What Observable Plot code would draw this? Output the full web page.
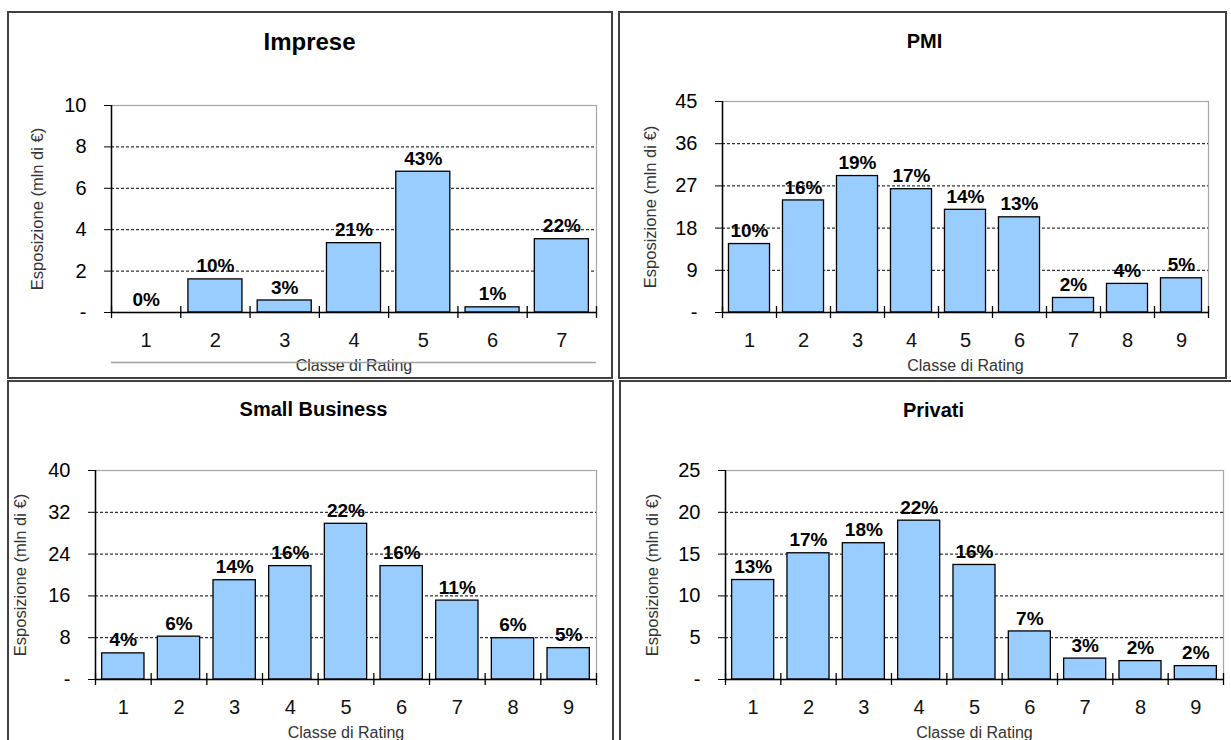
<!DOCTYPE html>
<html>
<head>
<meta charset="utf-8">
<script src="https://cdn.jsdelivr.net/npm/d3@7"></script>
<script src="https://cdn.jsdelivr.net/npm/@observablehq/plot@0.6"></script>
<style>
  html, body { margin: 0; padding: 0; background: #fff; }
  #root { position: relative; width: 1231px; height: 740px; overflow: hidden; background: #fff; }
  .box { position: absolute; border: 2px solid #404040; box-sizing: border-box; }
  .chart { position: absolute; }
  .chart svg { overflow: visible; }
</style>
</head>
<body>
<div id="root"></div>
<script>
// ---------- data ----------
const categories7 = [1, 2, 3, 4, 5, 6, 7];
const categories9 = [1, 2, 3, 4, 5, 6, 7, 8, 9];

const impreseTitle = "Imprese";
const impreseValues = [0, 1.6, 0.58, 3.35, 6.8, 0.25, 3.54];
const impreseLabels = ["0%", "10%", "3%", "21%", "43%", "1%", "22%"];
const impreseTicks = [0, 2, 4, 6, 8, 10];

const pmiTitle = "PMI";
const pmiValues = [14.6, 23.9, 29.1, 26.3, 21.9, 20.3, 3.1, 6.1, 7.3];
const pmiLabels = ["10%", "16%", "19%", "17%", "14%", "13%", "2%", "4%", "5%"];
const pmiTicks = [0, 9, 18, 27, 36, 45];

const smallTitle = "Small Business";
const smallValues = [5.0, 8.2, 19.0, 21.7, 29.8, 21.7, 15.1, 7.9, 6.0];
const smallLabels = ["4%", "6%", "14%", "16%", "22%", "16%", "11%", "6%", "5%"];
const smallTicks = [0, 8, 16, 24, 32, 40];

const privatiTitle = "Privati";
const privatiValues = [11.9, 15.1, 16.3, 19.0, 13.7, 5.75, 2.5, 2.2, 1.6];
const privatiLabels = ["13%", "17%", "18%", "22%", "16%", "7%", "3%", "2%", "2%"];
const privatiTicks = [0, 5, 10, 15, 20, 25];

const xLabel = "Classe di Rating";
const yLabel = "Esposizione (mln di €)";

// ---------- layout ----------
const FONT = "'Liberation Sans', Arial, sans-serif";
const panels = [
  {title: impreseTitle, cats: categories7, values: impreseValues, labels: impreseLabels, ticks: impreseTicks,
   border: {x: 7, y: 11, w: 606, h: 368},
   box: {x: 9, y: 13, w: 602, h: 364}, plot: {l: 111, r: 596, t: 105, b: 312},
   titleX: 309, titleY: 42, titleSize: 24, yLabX: 37, pad: 0.22, underline: true},
  {title: pmiTitle, cats: categories9, values: pmiValues, labels: pmiLabels, ticks: pmiTicks,
   border: {x: 618, y: 11, w: 609, h: 368},
   box: {x: 620, y: 13, w: 605, h: 364}, plot: {l: 722, r: 1208, t: 101, b: 312},
   titleX: 924, titleY: 41, titleSize: 20, yLabX: 650, pad: 0.24, underline: false},
  {title: smallTitle, cats: categories9, values: smallValues, labels: smallLabels, ticks: smallTicks,
   border: {x: 7, y: 380, w: 607, h: 400},
   box: {x: 9, y: 382, w: 603, h: 358}, plot: {l: 95, r: 596, t: 470, b: 679},
   titleX: 313, titleY: 409, titleSize: 20, yLabX: 20, pad: 0.24, underline: false},
  {title: privatiTitle, cats: categories9, values: privatiValues, labels: privatiLabels, ticks: privatiTicks,
   border: {x: 619, y: 380, w: 700, h: 400},
   box: {x: 621, y: 382, w: 610, h: 358}, plot: {l: 725, r: 1223, t: 470, b: 679},
   titleX: 933, titleY: 410, titleSize: 20, yLabX: 652, pad: 0.24, underline: false}
];

const root = document.getElementById("root");

for (const p of panels) {
  const b = document.createElement("div");
  b.className = "box";
  Object.assign(b.style, {left: p.border.x + "px", top: p.border.y + "px", width: p.border.w + "px", height: p.border.h + "px"});
  root.appendChild(b);
}

for (const p of panels) {
  const {box, plot} = p;
  const ml = plot.l - box.x;
  const mr = box.x + box.w - plot.r;
  const mt = plot.t - box.y;
  const mb = box.y + box.h - plot.b;
  const n = p.cats.length;
  const step = (plot.r - plot.l) / n;
  const ymax = p.ticks[p.ticks.length - 1];
  const data = p.cats.map((c, i) => ({c, v: p.values[i], t: p.labels[i]}));
  const frameCx = (plot.l + plot.r) / 2;

  const marks = [
    Plot.frame({stroke: "#a6a6a6", strokeWidth: 1.2}),
    Plot.ruleY(p.ticks.slice(1, -1), {stroke: "#000", strokeWidth: 1, strokeDasharray: "3,2"}),
    Plot.barY(data, {x: "c", y: "v", fill: "#99ccff", stroke: "#000", strokeWidth: 1.3}),
    Plot.ruleY([0], {stroke: "#000", strokeWidth: 1.5}),
    Plot.ruleX([p.cats[0]], {x: d => d, y1: 0, y2: ymax, dx: -step / 2, stroke: "#000", strokeWidth: 1.5}),
    Plot.ruleX(p.cats, {x: d => d, y1: 0, y2: 0, insetTop: 6, insetBottom: 6, dx: -step / 2, stroke: "#000", strokeWidth: 1.3}),
    Plot.ruleX([p.cats[n - 1]], {x: d => d, y1: 0, y2: 0, insetTop: 6, insetBottom: 6, dx: step / 2, stroke: "#000", strokeWidth: 1.3}),
    Plot.text(data, {x: "c", y: "v", text: "t", dy: -13, fontWeight: "bold", fontSize: 19, fill: "#000"}),
    Plot.text(p.cats, {x: d => d, text: d => String(d), frameAnchor: "bottom", lineAnchor: "middle", dy: 28, fontSize: 20, fill: "#111"}),
    Plot.text([xLabel], {frameAnchor: "bottom", lineAnchor: "middle", dy: 53, fontSize: 16, fill: "#333"}),
    Plot.text([yLabel], {frameAnchor: "left", textAnchor: "middle", lineAnchor: "middle", rotate: -90, dx: p.yLabX - plot.l, fontSize: 16.5, fill: "#333"}),
    Plot.text([p.title], {frameAnchor: "top", lineAnchor: "middle", dx: p.titleX - frameCx, dy: p.titleY - plot.t, fontWeight: "bold", fontSize: p.titleSize, fill: "#000"})
  ];
  if (p.underline) {
    marks.push(Plot.ruleY([0], {dy: 50, stroke: "#a0a0a0", strokeWidth: 1.5}));
  }

  const svg = Plot.plot({
    width: box.w,
    height: box.h,
    marginLeft: ml,
    marginRight: mr,
    marginTop: mt,
    marginBottom: mb,
    style: {fontFamily: FONT, fontSize: "20px", color: "#000", background: "transparent", overflow: "visible"},
    x: {type: "band", domain: p.cats, paddingInner: p.pad, paddingOuter: p.pad / 2, round: false, axis: null},
    y: {domain: [0, ymax], ticks: p.ticks, tickSize: 7, tickPadding: 18,
        tickFormat: d => d === 0 ? "-" : String(d), label: null},
    marks
  });
  const wrap = document.createElement("div");
  wrap.className = "chart";
  wrap.style.left = box.x + "px";
  wrap.style.top = box.y + "px";
  wrap.appendChild(svg);
  root.appendChild(wrap);
}
</script>
</body>
</html>
